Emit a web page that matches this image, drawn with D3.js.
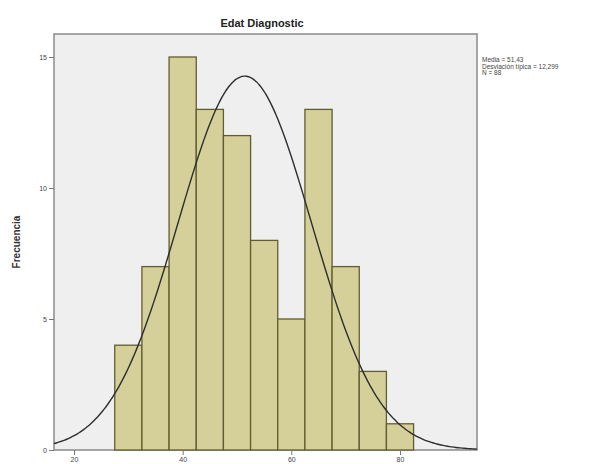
<!DOCTYPE html>
<html>
<head>
<meta charset="utf-8">
<script src="https://cdn.jsdelivr.net/npm/d3@7"></script>
<style>
  body { margin: 0; background: #fff; }
  svg { display: block; font-family: Arial, "Liberation Sans", sans-serif; }
</style>
</head>
<body>
<svg id="chart" width="611" height="464"></svg>
<script>
// histogram bins (age), width 5
const binStarts = [27.5, 32.5, 37.5, 42.5, 47.5, 52.5, 57.5, 62.5, 67.5, 72.5, 77.5];
const counts = [4, 7, 15, 13, 12, 8, 5, 13, 7, 3, 1];
const binWidth = 5;
const xTicks = [20, 40, 60, 80];
const yTicks = [0, 5, 10, 15];
const mean = 51.43, sd = 12.299, n = 88;
const legendLines = ["Media = 51,43", "Desviación típica = 12,299", "N = 88"];

const svg = d3.select("#chart");
const panel = {left: 54, right: 477, top: 34, bottom: 450};

const x = d3.scaleLinear().domain([20, 80]).range([74, 400]);
const y = d3.scaleLinear().domain([0, 15]).range([panel.bottom, 57]);

// panel background
svg.append("rect")
  .attr("x", panel.left).attr("y", panel.top)
  .attr("width", panel.right - panel.left).attr("height", panel.bottom - panel.top)
  .attr("fill", "#efefef").attr("stroke", "#8a8a8a").attr("stroke-width", 1.5);

// bars
svg.selectAll("rect.bar")
  .data(counts)
  .enter()
  .append("rect")
  .attr("class", "bar")
  .attr("x", (d, i) => x(binStarts[i]))
  .attr("y", d => y(d))
  .attr("width", (d, i) => x(binStarts[i] + binWidth) - x(binStarts[i]))
  .attr("height", d => y(0) - y(d))
  .attr("fill", "#d5d09a")
  .attr("stroke", "#625d30")
  .attr("stroke-width", 1.3);

// normal curve
const scale = n * binWidth / (sd * Math.sqrt(2 * Math.PI));
const x0 = x.invert(panel.left), x1 = x.invert(panel.right);
const pts = d3.range(0, 201).map(i => {
  const v = x0 + (x1 - x0) * i / 200;
  const z = (v - mean) / sd;
  return [v, scale * Math.exp(-0.5 * z * z)];
});
svg.append("path")
  .datum(pts)
  .attr("fill", "none")
  .attr("stroke", "#2e2e2e")
  .attr("stroke-width", 1.4)
  .attr("d", d3.line().x(d => x(d[0])).y(d => y(d[1])).curve(d3.curveBasis));

// y axis
const yAxis = svg.append("g")
  .attr("transform", `translate(${panel.left},0)`)
  .call(d3.axisLeft(y).tickValues(yTicks).tickSize(5).tickPadding(2));
yAxis.select(".domain").remove();
yAxis.selectAll("line").attr("stroke", "#777");
yAxis.selectAll("text").attr("font-size", 7).attr("fill", "#444");

// x axis
const xAxis = svg.append("g")
  .attr("transform", `translate(0,${panel.bottom})`)
  .call(d3.axisBottom(x).tickValues(xTicks).tickSize(5).tickPadding(2));
xAxis.select(".domain").remove();
xAxis.selectAll("line").attr("stroke", "#777");
xAxis.selectAll("text").attr("font-size", 7).attr("fill", "#444");

// title
svg.append("text")
  .attr("x", 262).attr("y", 27)
  .attr("text-anchor", "middle")
  .attr("font-size", 11).attr("font-weight", "bold")
  .attr("fill", "#222")
  .text("Edat Diagnostic");

// y label
svg.append("text")
  .attr("transform", "translate(20,242) rotate(-90)")
  .attr("text-anchor", "middle")
  .attr("font-size", 10).attr("font-weight", "bold")
  .attr("fill", "#333")
  .text("Frecuencia");

// stats legend
svg.append("g")
  .selectAll("text")
  .data(legendLines)
  .enter()
  .append("text")
  .attr("x", 482)
  .attr("y", (d, i) => 62 + i * 6.5)
  .attr("font-size", 6.5)
  .attr("fill", "#444")
  .text(d => d);
</script>
</body>
</html>
